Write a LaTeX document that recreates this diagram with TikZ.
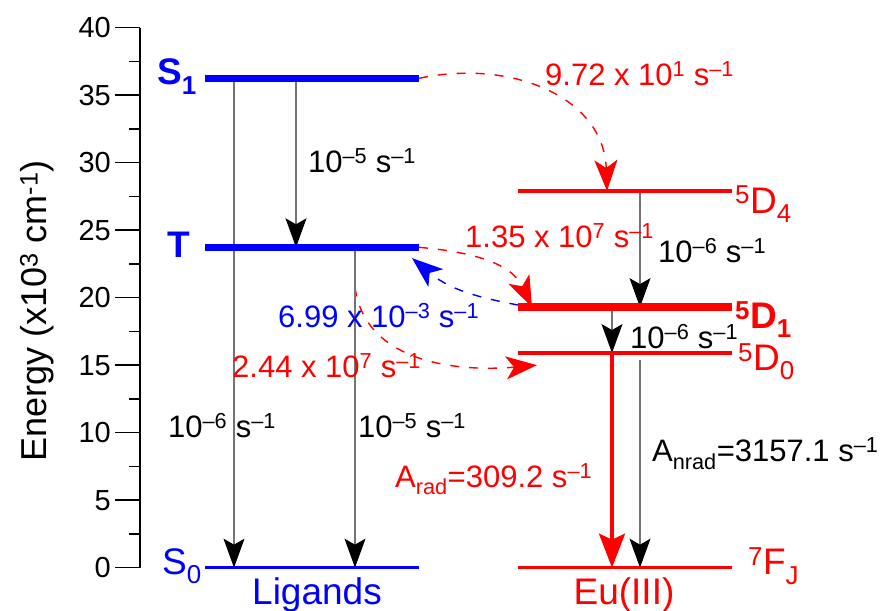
\documentclass[tikz,border=0pt]{standalone}
\usepackage{fontspec}
\setmainfont{Liberation Sans}
\usetikzlibrary{arrows.meta,positioning,calc}

\newcommand{\sinv}{~s\textsuperscript{\textendash1}}
\newcommand{\tenpow}[1]{10\textsuperscript{#1}}

\begin{document}
\begin{tikzpicture}[
  x=1pt, y=13.5pt,
  lig/.style={blue,line width=6.5pt},
  ligthin/.style={blue,line width=3.5pt},
  eu/.style={red,line width=3.5pt},
  euthick/.style={red,line width=7.5pt},
  decay/.style={black!55,line width=1.2pt,-{Stealth[length=29pt,width=21pt,inset=6pt,black]}},
  emit/.style={red,line width=3.5pt,-{Stealth[length=34pt,width=26pt,inset=6pt]}},
  et/.style={red,line width=1.4pt,dash pattern=on 9pt off 10pt,-{Stealth[length=31pt,width=23pt,inset=8pt]}},
  bt/.style={et,blue},
  rate/.style={font=\fontsize{31}{36}\selectfont,anchor=base west,inner sep=0pt},
  lvl/.style={font=\fontsize{37}{42}\selectfont,inner sep=0pt},
  ticklab/.style={font=\fontsize{29}{34}\selectfont,anchor=east,inner sep=0pt},
]
\useasboundingbox (0,-3.207) rectangle (887,42.05);

% axis
\draw[line width=1.5pt] (140,0) -- (140,40);
\foreach \v in {0,5,...,40} {
  \draw[line width=1.5pt] (115,\v) -- (140,\v);
  \node[ticklab] (t\v) at (111,\v) {\v};
}
\foreach \v in {2.5,7.5,...,37.5}
  \draw[line width=1.5pt] (129,\v) -- (140,\v);
\node[rotate=90,font=\fontsize{36}{42}\selectfont] (elab) at (37,19.0)
  {Energy (x10\textsuperscript{3} cm\textsuperscript{-1})};

% level end points
\coordinate (s1w) at (205,36.25); \coordinate (s1e) at (419,36.25);
\coordinate (tw)  at (205,23.73); \coordinate (te)  at (419,23.73);
\coordinate (s0w) at (205,0);     \coordinate (s0e) at (419,0);
\coordinate (d4w) at (518,27.9);  \coordinate (d4e) at (732,27.9);
\coordinate (d1w) at (518,19.3);  \coordinate (d1e) at (732,19.3);
\coordinate (d0w) at (518,15.9);  \coordinate (d0e) at (732,15.9);
\coordinate (fjw) at (518,0);     \coordinate (fje) at (732,0);

% arrow columns
\coordinate (ca) at (234,0);
\coordinate (cb) at (296,0);
\coordinate (cc) at (355,0);
\coordinate (cd) at (607,0);
\coordinate (ce) at (640,0);
\coordinate (cf) at (612,0);
\coordinate (cg) at (532,0);
\coordinate (tq)   at (355,20.75);
\coordinate (bsrc) at (537,19.2);
\coordinate (btgt) at (412,22.93);
\coordinate (d0in) at (537,15.0);
\coordinate (d0q)  at (640,15.4);

% transfer
\draw[et] (s1e) to[out=12,in=92,looseness=1.1] (cd |- d4w);
\draw[et] (te) to[out=-5,in=115] (cg |- d1w);
\draw[bt] (bsrc) to[out=170,in=-40] (btgt);
\draw[et] (tq) to[out=-82,in=185] (d0in);

% decays
\draw[decay] (ca |- s1w) -- (ca |- s0w);
\draw[decay] (cb |- s1w) -- (cb |- tw);
\draw[decay] (cc |- tw) -- (cc |- s0w);
\draw[decay] (ce |- d4w) -- (ce |- d1w);
\draw[decay] (cf |- d1w) -- (cf |- d0w);
\draw[decay] (d0q) -- (ce |- fjw);
\draw[emit] (cf |- d0w) -- (cf |- fjw);

% levels
\draw[lig] (s1w) -- (s1e);
\draw[lig] (tw) -- (te);
\draw[ligthin] (s0w) -- (s0e);
\draw[eu] (d4w) -- (d4e);
\draw[euthick] (d1w) -- (d1e);
\draw[eu] (d0w) -- (d0e);
\draw[eu] (fjw) -- (fje);

% level labels
\node[lvl,blue,anchor=base east,font=\fontsize{37}{42}\selectfont\bfseries] (ls1) at (197,35.77) {S\textsubscript{1}};
\node[lvl,blue,anchor=base east,font=\fontsize{37}{42}\selectfont\bfseries] (lt) at (190,22.94) {T};
\node[lvl,blue,anchor=base east] (ls0) at (202,-0.47) {S\textsubscript{0}};
\node[lvl,blue,anchor=base] (lig) at (317,-2.7) {Ligands};
\node[lvl,red,anchor=base] (eu3) at (624,-2.7) {Eu(III)};
\node[lvl,red,anchor=base west] (l5d4) at (735,26.27) {\textsuperscript{5}D\textsubscript{4}};
\node[lvl,red,anchor=base west,font=\fontsize{37}{42}\selectfont\bfseries] (l5d1) at (735,17.74) {\textsuperscript{5}D\textsubscript{1}};
\node[lvl,red,anchor=base west] (l5d0) at (738,14.64) {\textsuperscript{5}D\textsubscript{0}};
\node[lvl,red,anchor=base west] (l7fj) at (748,-0.54) {\textsuperscript{7}F\textsubscript{J}};

% rates
\node[rate] (k1) at (308,29.3) {\tenpow{\textendash5}\sinv};
\node[rate] (k2) at (168,9.61) {\tenpow{\textendash6}\sinv};
\node[rate] (k3) at (358,9.61) {\tenpow{\textendash5}\sinv};
\node[rate] (k4) at (658,22.64) {\tenpow{\textendash6}\sinv};
\node[rate] (k5) at (630,16.27) {\tenpow{\textendash6}\sinv};
\node[rate,red] (k6) at (545,35.75) {9.72 x \tenpow{1}\sinv};
\node[rate,red] (k7) at (465,23.68) {1.35 x \tenpow{7}\sinv};
\node[rate,blue] (k8) at (278,17.76) {6.99 x \tenpow{\textendash3}\sinv};
\node[rate,red] (k9) at (232,14.05) {2.44 x \tenpow{7}\sinv};
\node[rate,red] (arad) at (395,5.97) {A\textsubscript{rad}=309.2\sinv};
\node[rate] (anrad) at (652,7.83) {A\textsubscript{nrad}=3157.1\sinv};
\end{tikzpicture}
\end{document}
